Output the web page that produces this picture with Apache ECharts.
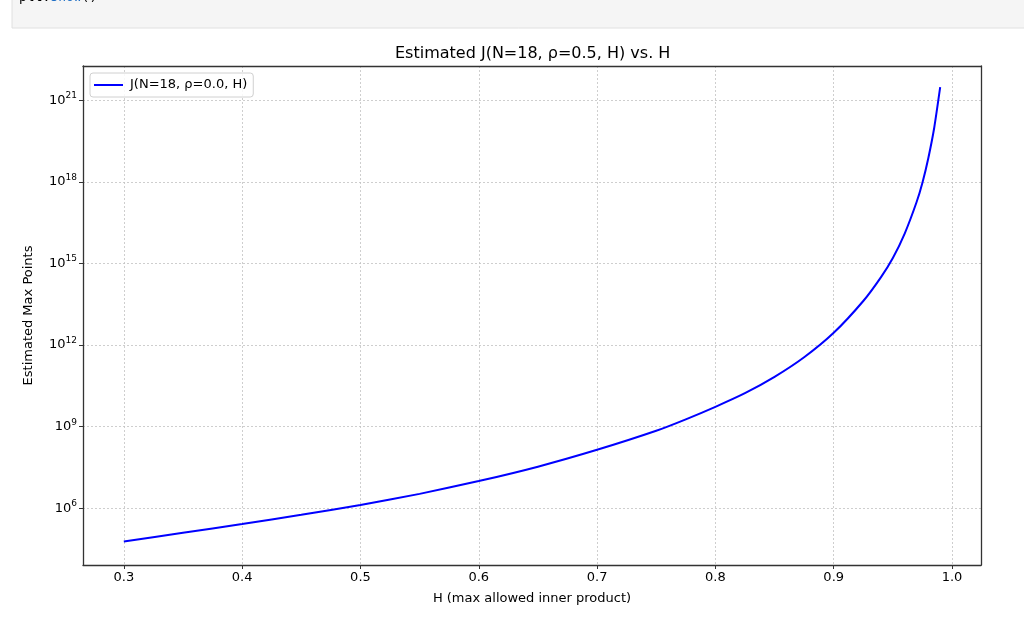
<!DOCTYPE html>
<html>
<head>
<meta charset="utf-8">
<script src="https://cdn.jsdelivr.net/npm/echarts@6/dist/echarts.min.js"></script>
<style>
html,body{margin:0;padding:0;background:#fff;}
#chart{width:1024px;height:620px;}
</style>
</head>
<body>
<div id="chart"></div>
<script>
// H values
const hValues = [0.30, 0.35, 0.40, 0.45, 0.50, 0.55, 0.60, 0.65, 0.70, 0.75, 0.775, 0.80, 0.825, 0.85, 0.875, 0.90, 0.925, 0.94, 0.95, 0.96, 0.97, 0.975, 0.98, 0.985, 0.99];
// log10 of estimated max points
const log10J = [4.78, 5.10, 5.42, 5.76, 6.12, 6.53, 7.00, 7.53, 8.15, 8.85, 9.27, 9.73, 10.23, 10.83, 11.55, 12.45, 13.62, 14.50, 15.20, 16.10, 17.25, 17.97, 18.88, 20.00, 21.48];
const xTicks = [0.3, 0.4, 0.5, 0.6, 0.7, 0.8, 0.9, 1.0];
const yTickExponents = [6, 9, 12, 15, 18, 21];
const seriesName = 'J(N=18, ρ=0.0, H)';
const titleText = 'Estimated J(N=18, ρ=0.5, H) vs. H';
const xLabel = 'H (max allowed inner product)';
const yLabel = 'Estimated Max Points';

const FONT = 'DejaVu Sans';
const seriesData = hValues.map((h, i) => [h, Math.pow(10, log10J[i])]);
const yTicks = yTickExponents.map(e => Math.pow(10, e));

const chart = echarts.init(document.getElementById('chart'), null, {renderer: 'canvas'});
const gridLine = {show: true, lineStyle: {color: '#c2c2c2', width: 0.8, type: [2, 2]}};
const xMin = 0.2655, xMax = 1.0245;
const yMin = Math.pow(10, 3.915), yMax = Math.pow(10, 22.26);

chart.setOption({
  animation: false,
  backgroundColor: '#fff',
  textStyle: {fontFamily: FONT},
  title: {
    text: titleText,
    left: 390, top: 41,
    textStyle: {fontFamily: FONT, fontSize: 16, fontWeight: 'normal', color: '#000'}
  },
  graphic: [
    {type: 'rect', shape: {x: 12, y: -2, width: 1020, height: 30}, style: {fill: '#f5f5f5', stroke: '#e0e0e0', lineWidth: 1}, z: -1},
    {type: 'text', left: 19, top: -9, style: {text: '{a|plt.}{b|show}{a|()}', rich: {a: {fontFamily: 'DejaVu Sans Mono', fontSize: 13, fill: '#000'}, b: {fontFamily: 'DejaVu Sans Mono', fontSize: 13, fill: '#1f6fc5'}}}}
  ],
  legend: {
    data: [{name: seriesName, icon: 'rect'}],
    left: 90, top: 73,
    orient: 'vertical',
    padding: [5, 6, 5, 4],
    itemWidth: 29, itemHeight: 2, itemGap: 5,
    borderColor: '#d0d0d0', borderWidth: 1, borderRadius: 3,
    backgroundColor: 'rgba(255,255,255,0.85)',
    textStyle: {fontFamily: FONT, fontSize: 13, lineHeight: 14, color: '#000', padding: [0, 0, 0, 2]}
  },
  grid: {left: 83, right: 43, top: 66, bottom: 55, containLabel: false},
  xAxis: [{
    type: 'value', min: xMin, max: xMax,
    name: xLabel, nameLocation: 'middle', nameGap: 27,
    nameTextStyle: {fontFamily: FONT, fontSize: 13, color: '#000'},
    axisLine: {show: true, onZero: false, lineStyle: {color: '#333', width: 1.3}},
    axisTick: {show: true, length: 4, customValues: xTicks, lineStyle: {color: '#333', width: 1}},
    axisLabel: {customValues: xTicks, margin: 6, fontFamily: FONT, fontSize: 13, color: '#000', formatter: v => v.toFixed(1)},
    splitLine: gridLine
  }, {
    type: 'value', min: xMin, max: xMax, position: 'top',
    axisLine: {show: true, onZero: false, lineStyle: {color: '#333', width: 1.3}},
    axisTick: {show: false}, axisLabel: {show: false}, splitLine: {show: false}
  }],
  yAxis: [{
    type: 'log', logBase: 10, min: yMin, max: yMax,
    name: yLabel, nameLocation: 'middle', nameGap: 48,
    nameTextStyle: {fontFamily: FONT, fontSize: 13, color: '#000'},
    axisLine: {show: true, onZero: false, lineStyle: {color: '#333', width: 1.3}},
    axisTick: {show: true, length: 4, customValues: yTicks, lineStyle: {color: '#333', width: 1}},
    axisLabel: {
      customValues: yTicks, margin: 6, fontFamily: FONT, fontSize: 13, color: '#000',
      formatter: v => '10{sup|' + Math.round(Math.log10(v)) + '}',
      rich: {sup: {fontFamily: FONT, fontSize: 9, color: '#000', verticalAlign: 'top', padding: [0, 0, 9, 0]}}
    },
    splitLine: gridLine
  }, {
    type: 'value', min: 0, max: 1, position: 'right',
    axisLine: {show: true, onZero: false, lineStyle: {color: '#333', width: 1.3}},
    axisTick: {show: false}, axisLabel: {show: false}, splitLine: {show: false}
  }],
  series: [{
    name: seriesName,
    type: 'line',
    xAxisIndex: 0, yAxisIndex: 0,
    data: seriesData,
    symbol: 'none', showSymbol: false,
    smooth: 0.2,
    lineStyle: {color: '#0000ff', width: 2},
    itemStyle: {color: '#0000ff'}
  }]
});
</script>
</body>
</html>
